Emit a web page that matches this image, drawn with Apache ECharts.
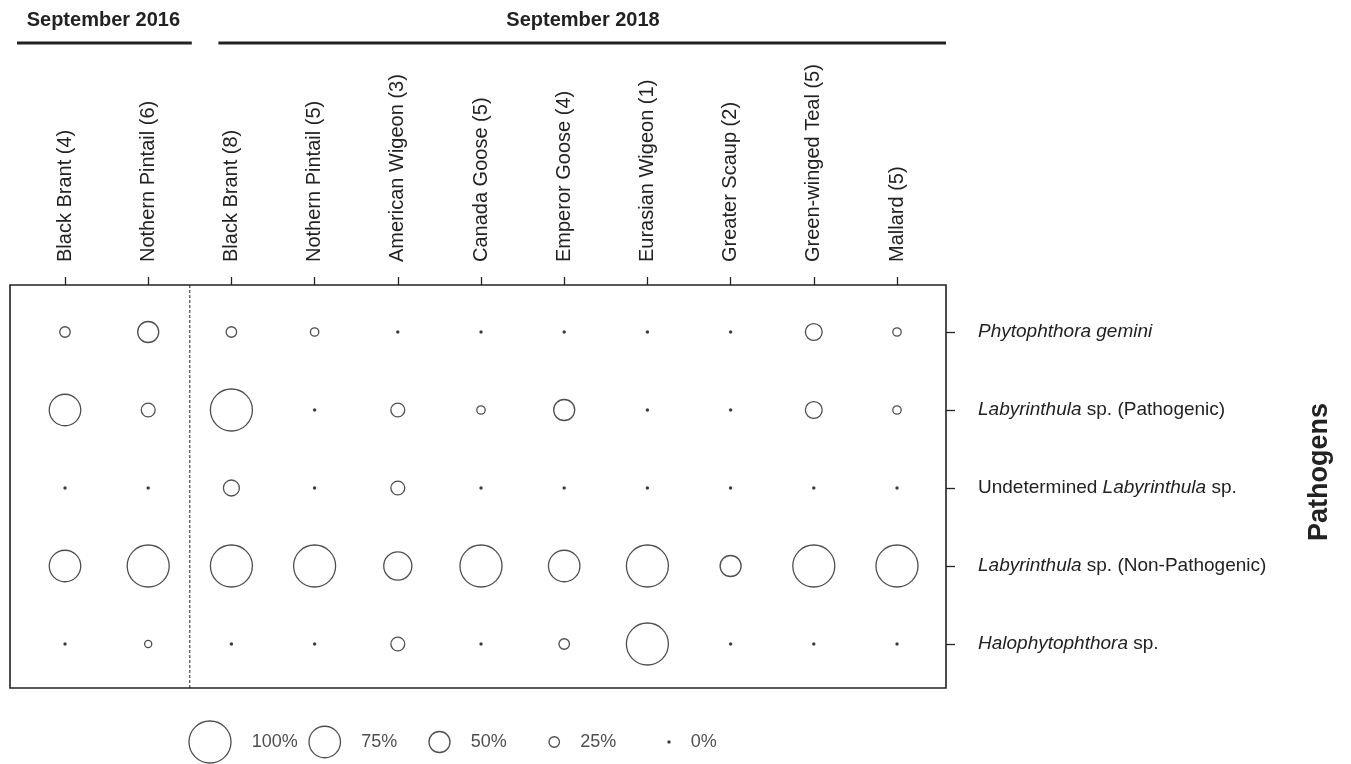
<!DOCTYPE html>
<html lang="en">
<head>
  <meta charset="UTF-8">
  <title>Pathogens by host species</title>
  <script src="https://cdn.jsdelivr.net/npm/echarts@6/dist/echarts.min.js"></script>
  <style>
    html, body { margin: 0; padding: 0; background: #fff; }
  </style>
</head>
<body>
<div id="main" style="width:1351px;height:764px;"></div>
<script type="text/javascript">
  // host species (sample size) - first two are September 2016, rest September 2018
  var hosts = ['Black Brant (4)', 'Nothern Pintail (6)', 'Black Brant (8)', 'Nothern Pintail (5)',
    'American Wigeon (3)', 'Canada Goose (5)', 'Emperor Goose (4)', 'Eurasian Wigeon (1)',
    'Greater Scaup (2)', 'Green-winged Teal (5)', 'Mallard (5)'];
  var pathogens = ['Phytophthora gemini', 'Labyrinthula sp. (Pathogenic)', 'Undetermined Labyrinthula sp.',
    'Labyrinthula sp. (Non-Pathogenic)', 'Halophytophthora sp.'];

  // percent of birds positive, one array per pathogen (same order as hosts)
  var phytophthora = [25, 50, 25, 20, 0, 0, 0, 0, 0, 40, 20];
  var labPathogenic = [75, 33, 100, 0, 33, 20, 50, 0, 0, 40, 20];
  var labUndetermined = [0, 0, 38, 0, 33, 0, 0, 0, 0, 0, 0];
  var labNonPathogenic = [75, 100, 100, 100, 67, 100, 75, 100, 50, 100, 100];
  var halophytophthora = [0, 17, 0, 0, 33, 0, 25, 100, 0, 0, 0];

  var legendValues = [100, 75, 50, 25, 0];

  var rows = [phytophthora, labPathogenic, labUndetermined, labNonPathogenic, halophytophthora];
  var points = [];
  rows.forEach(function (row, r) {
    row.forEach(function (v, c) {
      points.push([c, r, v]);
    });
  });

  var FONT = '"Liberation Sans", Arial, Helvetica, sans-serif';
  var INK = '#222';

  function bubbleSize(v) {
    return v === 0 ? 2.2 : 42 * v / 100;
  }
  function bubbleColor(p) {
    var v = p.value[p.value.length - 1];
    return v === 0 ? INK : 'rgba(255,255,255,0)';
  }

  var chartDom = document.getElementById('main');
  var myChart = echarts.init(chartDom);
  var option;

  option = {
    animation: false,
    textStyle: { fontFamily: FONT, color: INK },
    grid: [
      // outer frame
      { left: 10, top: 285, width: 936, height: 403, show: true, borderColor: INK, borderWidth: 1.6, backgroundColor: 'transparent' },
      // plotting area (category bands)
      { left: 23.4, top: 293, width: 915.2, height: 390 },
      // size legend
      { left: 210, top: 732, width: 459, height: 20 }
    ],
    xAxis: [
      { gridIndex: 0, type: 'value', show: false },
      {
        gridIndex: 1,
        type: 'category',
        data: hosts,
        position: 'top',
        offset: 8,
        axisLine: { show: false },
        axisTick: { show: true, alignWithLabel: true, length: 8, lineStyle: { color: INK, width: 1.3 } },
        axisLabel: { rotate: -90, margin: 23, fontSize: 20, color: INK, fontFamily: FONT, interval: 0 },
        splitLine: { show: false }
      },
      { gridIndex: 2, type: 'category', data: legendValues, boundaryGap: false, show: false }
    ],
    yAxis: [
      { gridIndex: 0, type: 'value', show: false },
      {
        gridIndex: 1,
        type: 'category',
        data: pathogens,
        inverse: true,
        position: 'right',
        offset: 7.4,
        axisLine: { show: false },
        axisTick: { show: true, alignWithLabel: true, length: 9, lineStyle: { color: INK, width: 1.3 } },
        axisLabel: {
          margin: 32,
          fontSize: 19,
          color: INK,
          fontFamily: FONT,
          formatter: function (s) {
            return s.replace(/(Phytophthora gemini|Halophytophthora|Labyrinthula)/, '{i|$1}');
          },
          rich: { i: { fontStyle: 'italic', fontSize: 19, color: INK, fontFamily: FONT } }
        }
      },
      { gridIndex: 2, type: 'category', data: ['size'], show: false }
    ],
    series: [
      {
        type: 'scatter',
        xAxisIndex: 1,
        yAxisIndex: 1,
        data: points,
        symbol: 'circle',
        symbolSize: function (val) { return bubbleSize(val[2]); },
        itemStyle: { color: bubbleColor, borderColor: INK, borderWidth: 1.3 },
        emphasis: { disabled: true }
      },
      {
        type: 'scatter',
        xAxisIndex: 2,
        yAxisIndex: 2,
        data: legendValues.map(function (v, i) { return [i, 0, v]; }),
        symbol: 'circle',
        symbolSize: function (val) { return bubbleSize(val[2]); },
        itemStyle: { color: bubbleColor, borderColor: INK, borderWidth: 1.3 },
        label: {
          show: true,
          position: 'right',
          distance: 20,
          fontSize: 18,
          color: INK,
          fontFamily: FONT,
          formatter: function (p) { return p.value[2] + '%'; }
        },
        emphasis: { disabled: true }
      }
    ]
  };

  option && myChart.setOption(option);

  // year headers, axis title and the dashed divider between the two sampling years
  var x1 = myChart.convertToPixel({ xAxisIndex: 1 }, 1);
  var x2 = myChart.convertToPixel({ xAxisIndex: 1 }, 2);
  var divider = (x1 + x2) / 2;

  myChart.setOption({
    graphic: [
      {
        type: 'line',
        shape: { x1: divider, y1: 285, x2: divider, y2: 688 },
        style: { stroke: INK, lineWidth: 1, lineDash: [3, 2] }
      },
      {
        type: 'line',
        shape: { x1: 17, y1: 43, x2: divider + 2, y2: 43 },
        style: { stroke: INK, lineWidth: 3 }
      },
      {
        type: 'line',
        shape: { x1: x2 - 13, y1: 43, x2: 946, y2: 43 },
        style: { stroke: INK, lineWidth: 3 }
      },
      {
        type: 'text',
        x: (17 + divider) / 2,
        y: 20,
        style: { text: 'September 2016', font: 'bold 20px ' + FONT, fill: INK, align: 'center', verticalAlign: 'middle' }
      },
      {
        type: 'text',
        x: 583,
        y: 20,
        style: { text: 'September 2018', font: 'bold 20px ' + FONT, fill: INK, align: 'center', verticalAlign: 'middle' }
      },
      {
        type: 'text',
        x: 1320,
        y: 472,
        rotation: Math.PI / 2,
        style: { text: 'Pathogens', font: 'bold 27px ' + FONT, fill: INK, align: 'center', verticalAlign: 'middle' }
      }
    ]
  });
</script>
</body>
</html>
